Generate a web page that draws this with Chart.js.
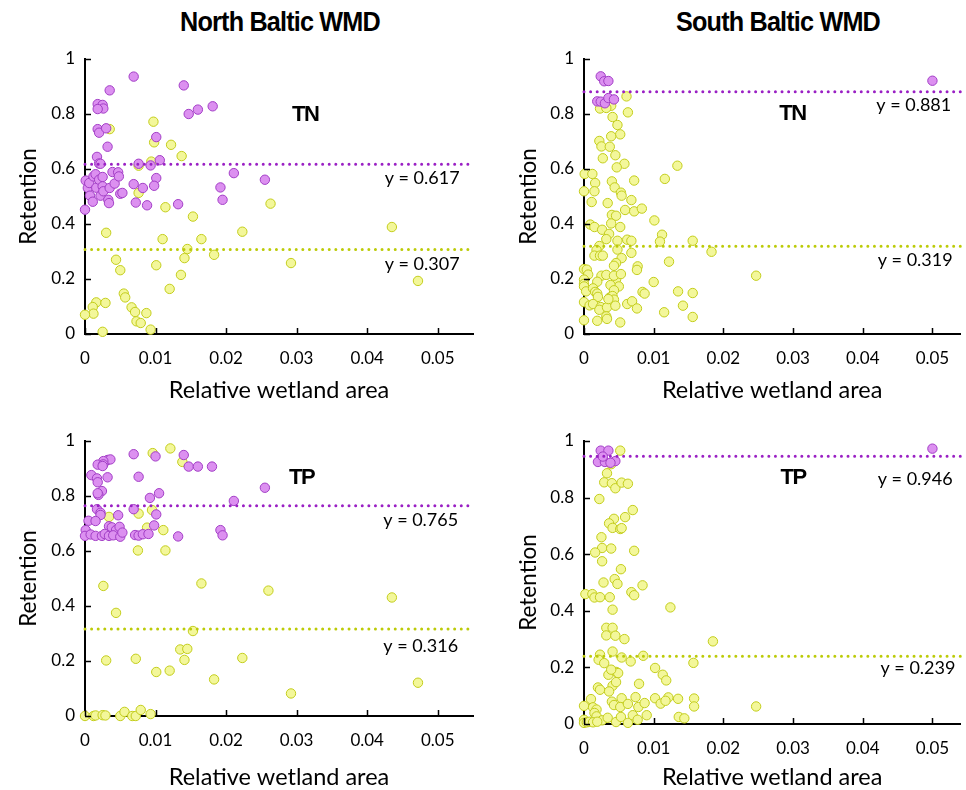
<!DOCTYPE html>
<html>
<head>
<meta charset="utf-8">
<title>Wetland retention – Baltic WMDs</title>
<script src="https://cdn.jsdelivr.net/npm/chart.js@4.4.1/dist/chart.umd.min.js"></script>
<style>
  body { margin: 0; background: #fff; width: 966px; height: 790px; position: relative; overflow: hidden; }
  canvas { position: absolute; }
  .region-title {
    position: absolute; top: 6px; white-space: nowrap;
    font: bold 28px "Liberation Sans", Arial, sans-serif; letter-spacing: -0.9px;
    transform: translateX(-50%) scaleX(0.9);
  }
</style>
</head>
<body>
<div class="region-title" style="left:280px">North Baltic WMD</div>
<div class="region-title" style="left:778px">South Baltic WMD</div>
<canvas id="nb-tn" width="483" height="420" style="left:0;top:0"></canvas>
<canvas id="sb-tn" width="483" height="420" style="left:483px;top:0"></canvas>
<canvas id="nb-tp" width="483" height="400" style="left:0;top:400px"></canvas>
<canvas id="sb-tp" width="483" height="400" style="left:483px;top:400px"></canvas>
<script>
// Retention vs relative wetland area, two Baltic water management districts, TN and TP.
// Each point: [relative wetland area, retention]. "upper" = purple group, "lower" = yellow group.

const yTicks = [0, 0.2, 0.4, 0.6, 0.8, 1];
const xTicks = [0, 0.01, 0.02, 0.03, 0.04, 0.05];

const northTnMeans = [0.617, 0.307];
const southTnMeans = [0.881, 0.319];
const northTpMeans = [0.765, 0.316];
const southTpMeans = [0.946, 0.239];

const northTnUpper = [
  [0.0069,0.936],[0.0140,0.904],[0.0035,0.886],[0.0018,0.836],[0.0025,0.833],[0.0026,0.820],[0.0018,0.818],
  [0.0147,0.800],[0.0160,0.816],[0.0181,0.828],[0.0018,0.745],[0.0020,0.732],[0.0030,0.748],[0.0101,0.716],
  [0.0032,0.681],[0.0017,0.644],[0.0020,0.620],[0.0022,0.619],[0.0076,0.619],[0.0093,0.613],[0.0106,0.632],
  [0.0101,0.567],[0.0098,0.539],[0.0069,0.545],[0.0082,0.531],[0.0072,0.478],[0.0088,0.468],[0.0132,0.472],
  [0.0211,0.585],[0.0255,0.561],[0.0192,0.533],[0.0195,0.488],
  [0.0000,0.452],[0.0001,0.558],[0.0004,0.531],[0.0006,0.549],[0.0007,0.503],[0.0011,0.481],[0.0012,0.573],
  [0.0015,0.581],[0.0016,0.532],[0.0020,0.561],[0.0022,0.503],[0.0025,0.571],[0.0025,0.537],[0.0026,0.519],
  [0.0033,0.488],[0.0034,0.476],[0.0035,0.531],[0.0039,0.589],[0.0042,0.547],[0.0047,0.588],[0.0048,0.573],
  [0.0050,0.510],[0.0053,0.513]
];
const northTnLower = [
  [0.0097,0.772],[0.0098,0.697],[0.0094,0.627],[0.0122,0.688],[0.0137,0.647],[0.0035,0.745],[0.0076,0.612],
  [0.0076,0.513],[0.0114,0.461],[0.0153,0.427],[0.0030,0.368],[0.0110,0.345],[0.0165,0.345],[0.0223,0.372],
  [0.0145,0.309],[0.0141,0.276],[0.0183,0.288],[0.0044,0.270],[0.0050,0.232],[0.0101,0.250],[0.0136,0.215],
  [0.0120,0.164],[0.0055,0.147],[0.0057,0.133],[0.0016,0.115],[0.0029,0.113],[0.0011,0.098],[0.0012,0.074],
  [0.0000,0.070],[0.0066,0.097],[0.0071,0.080],[0.0073,0.046],[0.0079,0.040],[0.0087,0.076],[0.0093,0.016],
  [0.0025,0.008],[0.0263,0.474],[0.0435,0.389],[0.0292,0.258],[0.0472,0.193]
];

const southTnUpper = [
  [0.0024,0.937],[0.0029,0.919],[0.0035,0.920],[0.0019,0.846],[0.0024,0.845],[0.0030,0.839],[0.0035,0.858],
  [0.0043,0.853],[0.0500,0.921]
];
const southTnLower = [
  [0.0061,0.864],[0.0023,0.820],[0.0039,0.830],[0.0032,0.822],[0.0063,0.806],[0.0041,0.789],[0.0048,0.760],
  [0.0052,0.726],[0.0039,0.719],[0.0022,0.702],[0.0025,0.682],[0.0037,0.681],[0.0045,0.650],[0.0027,0.639],
  [0.0058,0.619],[0.0047,0.606],[0.0134,0.612],[0.0001,0.582],[0.0012,0.582],[0.0016,0.549],[0.0000,0.519],
  [0.0015,0.519],[0.0040,0.555],[0.0044,0.533],[0.0053,0.514],[0.0054,0.503],[0.0072,0.558],[0.0116,0.564],
  [0.0068,0.487],[0.0011,0.480],[0.0034,0.476],[0.0059,0.451],[0.0072,0.446],[0.0083,0.456],[0.0040,0.433],
  [0.0046,0.430],[0.0101,0.413],[0.0039,0.402],[0.0052,0.389],[0.0009,0.398],[0.0015,0.389],[0.0026,0.379],
  [0.0036,0.364],[0.0032,0.345],[0.0048,0.339],[0.0062,0.343],[0.0068,0.339],[0.0112,0.361],[0.0109,0.336],
  [0.0156,0.339],[0.0183,0.299],[0.0022,0.320],[0.0018,0.305],[0.0015,0.285],[0.0023,0.285],[0.0027,0.285],
  [0.0048,0.307],[0.0068,0.295],[0.0054,0.276],[0.0046,0.258],[0.0043,0.248],[0.0122,0.263],[0.0077,0.246],
  [0.0076,0.233],[0.0000,0.236],[0.0004,0.234],[0.0006,0.216],[0.0000,0.198],[0.0000,0.182],[0.0000,0.173],
  [0.0003,0.155],[0.0025,0.212],[0.0032,0.215],[0.0046,0.198],[0.0043,0.212],[0.0053,0.218],[0.0019,0.190],
  [0.0050,0.173],[0.0038,0.178],[0.0043,0.159],[0.0100,0.189],[0.0013,0.166],[0.0016,0.153],[0.0019,0.147],
  [0.0020,0.135],[0.0084,0.153],[0.0087,0.147],[0.0135,0.155],[0.0156,0.149],[0.0000,0.116],[0.0008,0.104],
  [0.0013,0.109],[0.0024,0.098],[0.0022,0.088],[0.0033,0.097],[0.0037,0.133],[0.0041,0.138],[0.0043,0.125],
  [0.0045,0.103],[0.0035,0.127],[0.0062,0.109],[0.0069,0.119],[0.0076,0.093],[0.0115,0.079],[0.0142,0.103],
  [0.0156,0.062],[0.0000,0.050],[0.0019,0.048],[0.0032,0.064],[0.0033,0.055],[0.0052,0.042],[0.0247,0.212]
];

const northTpUpper = [
  [0.0069,0.952],[0.0100,0.944],[0.0140,0.949],[0.0032,0.931],[0.0036,0.933],[0.0026,0.927],[0.0018,0.914],
  [0.0026,0.915],[0.0025,0.909],[0.0147,0.907],[0.0160,0.907],[0.0180,0.907],[0.0009,0.876],[0.0017,0.864],
  [0.0018,0.850],[0.0032,0.868],[0.0076,0.870],[0.0024,0.818],[0.0019,0.804],[0.0018,0.810],[0.0105,0.810],
  [0.0092,0.793],[0.0255,0.830],[0.0211,0.782],[0.0017,0.752],[0.0022,0.739],[0.0022,0.731],[0.0069,0.752],
  [0.0101,0.733],[0.0047,0.730],[0.0005,0.710],[0.0015,0.709],[0.0098,0.693],[0.0034,0.690],[0.0038,0.686],
  [0.0044,0.676],[0.0049,0.688],[0.0192,0.676],[0.0195,0.657],[0.0001,0.676],[0.0000,0.655],[0.0008,0.660],
  [0.0015,0.655],[0.0024,0.655],[0.0028,0.662],[0.0034,0.655],[0.0040,0.657],[0.0050,0.652],[0.0053,0.667],
  [0.0071,0.658],[0.0076,0.656],[0.0082,0.661],[0.0090,0.662],[0.0132,0.653]
];
const northTpLower = [
  [0.0121,0.973],[0.0096,0.956],[0.0138,0.924],[0.0034,0.724],[0.0076,0.736],[0.0095,0.749],[0.0088,0.685],
  [0.0111,0.676],[0.0075,0.602],[0.0114,0.602],[0.0026,0.473],[0.0165,0.482],[0.0260,0.456],[0.0435,0.431],
  [0.0044,0.375],[0.0153,0.309],[0.0135,0.242],[0.0145,0.244],[0.0141,0.204],[0.0223,0.211],[0.0030,0.202],
  [0.0072,0.208],[0.0101,0.160],[0.0120,0.165],[0.0183,0.133],[0.0292,0.082],[0.0472,0.121],[0.0000,0.000],
  [0.0012,0.000],[0.0015,0.002],[0.0025,0.003],[0.0029,0.002],[0.0050,0.000],[0.0056,0.015],[0.0067,0.000],
  [0.0072,0.000],[0.0079,0.022],[0.0093,0.007]
];

const southTpUpper = [
  [0.0024,0.966],[0.0035,0.966],[0.0020,0.926],[0.0030,0.926],[0.0045,0.929],[0.0027,0.945],[0.0038,0.923],
  [0.0500,0.973]
];
const southTpLower = [
  [0.0052,0.966],[0.0039,0.918],[0.0033,0.886],[0.0029,0.854],[0.0040,0.851],[0.0045,0.833],[0.0054,0.853],
  [0.0063,0.849],[0.0022,0.795],[0.0070,0.756],[0.0059,0.731],[0.0043,0.725],[0.0036,0.709],[0.0041,0.693],
  [0.0052,0.689],[0.0054,0.692],[0.0025,0.660],[0.0026,0.622],[0.0039,0.620],[0.0016,0.606],[0.0072,0.612],
  [0.0026,0.575],[0.0053,0.547],[0.0044,0.512],[0.0048,0.495],[0.0028,0.500],[0.0084,0.490],[0.0068,0.466],
  [0.0072,0.455],[0.0002,0.459],[0.0012,0.459],[0.0015,0.447],[0.0023,0.448],[0.0037,0.448],[0.0124,0.412],
  [0.0041,0.404],[0.0032,0.340],[0.0041,0.340],[0.0032,0.313],[0.0045,0.312],[0.0058,0.300],[0.0185,0.292],
  [0.0023,0.245],[0.0041,0.256],[0.0054,0.235],[0.0067,0.221],[0.0085,0.241],[0.0021,0.227],[0.0029,0.215],
  [0.0157,0.216],[0.0102,0.198],[0.0113,0.174],[0.0118,0.154],[0.0035,0.174],[0.0046,0.184],[0.0049,0.180],
  [0.0039,0.192],[0.0041,0.135],[0.0046,0.148],[0.0079,0.142],[0.0020,0.129],[0.0023,0.121],[0.0036,0.115],
  [0.0010,0.088],[0.0074,0.095],[0.0102,0.091],[0.0121,0.094],[0.0135,0.089],[0.0158,0.090],[0.0158,0.062],
  [0.0000,0.064],[0.0013,0.059],[0.0018,0.051],[0.0015,0.039],[0.0054,0.091],[0.0040,0.079],[0.0043,0.067],
  [0.0052,0.060],[0.0063,0.071],[0.0078,0.060],[0.0087,0.074],[0.0110,0.072],[0.0117,0.082],[0.0136,0.025],
  [0.0144,0.020],[0.0018,0.027],[0.0026,0.013],[0.0034,0.022],[0.0046,0.007],[0.0053,0.025],[0.0063,0.004],
  [0.0070,0.031],[0.0077,0.015],[0.0090,0.031],[0.0000,0.015],[0.0000,0.004],[0.0004,0.006],[0.0008,0.008],
  [0.0013,0.006],[0.0019,0.008],[0.0247,0.062]
];

const COLORS = {
  purpleFill: "#dc90f0",
  purpleEdge: "#a23ec6",
  purpleLine: "#9a20c4",
  yellowFill: "#f3f79a",
  yellowEdge: "#c3cd1c",
  yellowLine: "#bccb08"
};
const TEXT_FONT = "Lato, 'Open Sans', sans-serif";

const toPoints = (pairs) => pairs.map(([x, y]) => ({ x, y }));

// inner tick marks, "y = ..." labels and the TN/TP tag
const panelNotes = {
  id: "panelNotes",
  afterDraw(chart, args, opts) {
    const ctx = chart.ctx;
    const xs = chart.scales.x, ys = chart.scales.y;
    ctx.save();
    ctx.strokeStyle = "#000";
    ctx.lineWidth = 1.5;
    ctx.beginPath();
    xs.ticks.forEach((t) => {
      const px = Math.round(xs.getPixelForValue(t.value)) + 0.5;
      ctx.moveTo(px, ys.bottom);
      ctx.lineTo(px, ys.bottom - 6);
    });
    ys.ticks.forEach((t) => {
      const py = Math.round(ys.getPixelForValue(t.value)) + 0.5;
      ctx.moveTo(xs.left, py);
      ctx.lineTo(xs.left + 6, py);
    });
    ctx.stroke();

    ctx.fillStyle = "#000";
    ctx.font = "18px " + TEXT_FONT;
    ctx.textAlign = "right";
    ctx.textBaseline = "middle";
    opts.means.forEach((m, i) => {
      ctx.fillText("y = " + m.toFixed(3), xs.getPixelForValue(opts.labelX[i]), ys.getPixelForValue(m) + opts.labelDrop[i]);
    });

    ctx.font = "bold 22px 'Liberation Sans', Arial, sans-serif";
    if ("letterSpacing" in ctx) ctx.letterSpacing = "-1.5px";
    ctx.textAlign = "center";
    ctx.fillText(opts.tag, xs.getPixelForValue(opts.tagAt[0]), ys.getPixelForValue(opts.tagAt[1]));
    ctx.restore();
  }
};

function makePanel(id, p) {
  const meanLine = (m, color) => ({
    data: [{ x: 0, y: m }, { x: p.xMax, y: m }],
    showLine: true, pointRadius: 0, borderColor: color, borderWidth: 3,
    borderDash: [0.001, 6.6], borderCapStyle: "round", clip: false
  });
  const dots = (pairs, fill, edge) => ({
    data: toPoints(pairs), pointRadius: 4.7, pointBorderWidth: 1,
    pointBackgroundColor: fill, pointBorderColor: edge, clip: false
  });

  new Chart(document.getElementById(id), {
    type: "scatter",
    data: {
      datasets: [
        meanLine(p.means[0], COLORS.purpleLine),
        meanLine(p.means[1], COLORS.yellowLine),
        dots(p.upper, COLORS.purpleFill, COLORS.purpleEdge),
        dots(p.lower, COLORS.yellowFill, COLORS.yellowEdge)
      ]
    },
    options: {
      responsive: false,
      animation: false,
      events: [],
      layout: { padding: p.padding },
      plugins: {
        legend: { display: false },
        tooltip: { enabled: false },
        panelNotes: { means: p.means, labelX: p.labelX, labelDrop: p.labelDrop, tag: p.tag, tagAt: p.tagAt }
      },
      scales: {
        x: {
          type: "linear", min: 0, max: p.xMax,
          afterBuildTicks: (s) => { s.ticks = xTicks.map((v) => ({ value: v })); },
          afterFit: (s) => { s.height = p.xHeight; },
          grid: { display: false, drawTicks: false },
          border: { display: true, color: "#000", width: 2 },
          ticks: { color: "#000", padding: 14, font: { family: TEXT_FONT, size: 17 }, callback: (v) => String(v) },
          title: { display: true, text: "Relative wetland area", color: "#000", padding: { top: 0, bottom: 0 }, font: { family: TEXT_FONT, size: 23.5 } }
        },
        y: {
          type: "linear", min: 0, max: 1,
          afterBuildTicks: (s) => { s.ticks = yTicks.map((v) => ({ value: v })); },
          afterFit: (s) => { s.width = p.yWidth; },
          grid: { display: false, drawTicks: false },
          border: { display: true, color: "#000", width: 2 },
          ticks: { color: "#000", padding: 10, font: { family: TEXT_FONT, size: 17 }, callback: (v) => String(v) },
          title: { display: true, text: "Retention", color: "#000", padding: { top: p.yTitlePad, bottom: 0 }, font: { family: TEXT_FONT, size: 22.5 } }
        }
      }
    },
    plugins: [panelNotes]
  });
}

makePanel("nb-tn", {
  upper: northTnUpper, lower: northTnLower, means: northTnMeans, tag: "TN", tagAt: [0.0312, 0.796],
  labelX: [0.0531, 0.0531], labelDrop: [14, 15], xMax: 0.055,
  padding: { left: 0, top: 59, right: 10, bottom: 15 }, yWidth: 85, xHeight: 71, yTitlePad: 15
});
makePanel("sb-tn", {
  upper: southTnUpper, lower: southTnLower, means: southTnMeans, tag: "TN", tagAt: [0.0299, 0.800],
  labelX: [0.0527, 0.0529], labelDrop: [13, 14], xMax: 0.054,
  padding: { left: 0, top: 59, right: 0, bottom: 15 }, yWidth: 101, xHeight: 71, yTitlePad: 32
});
makePanel("nb-tp", {
  upper: northTpUpper, lower: northTpLower, means: northTpMeans, tag: "TP", tagAt: [0.0307, 0.865],
  labelX: [0.0529, 0.0529], labelDrop: [15, 17], xMax: 0.055,
  padding: { left: 0, top: 41, right: 10, bottom: 8 }, yWidth: 85, xHeight: 76, yTitlePad: 15
});
makePanel("sb-tp", {
  upper: southTpUpper, lower: southTpLower, means: southTpMeans, tag: "TP", tagAt: [0.0300, 0.869],
  labelX: [0.0529, 0.0533], labelDrop: [23, 12], xMax: 0.054,
  padding: { left: 0, top: 41, right: 0, bottom: 8 }, yWidth: 101, xHeight: 68, yTitlePad: 32
});
</script>
</body>
</html>
